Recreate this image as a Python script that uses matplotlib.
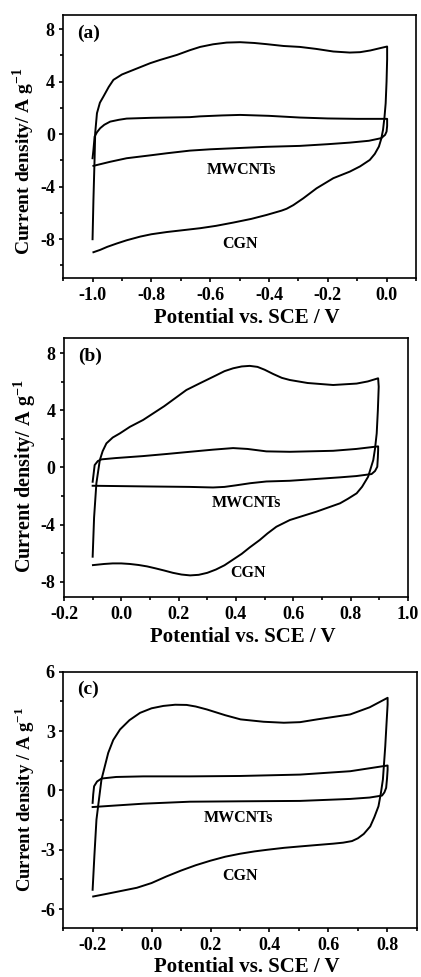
import matplotlib
matplotlib.use("Agg")
import matplotlib.pyplot as plt
from matplotlib.ticker import MultipleLocator, FormatStrFormatter

plt.rcParams['font.family'] = ['Liberation Serif', 'DejaVu Serif']
plt.rcParams['font.weight'] = 'bold'
plt.rcParams['axes.unicode_minus'] = False
plt.rcParams['mathtext.fontset'] = 'custom'
plt.rcParams['mathtext.rm'] = 'Liberation Serif'
plt.rcParams['mathtext.bf'] = 'Liberation Serif:bold'

# ---- panel (a) : -1.0 .. 0.0 V ----
a_cgn_x = [-1.0, -0.997, -0.993, -0.991, -0.985, -0.975, -0.963, -0.945, -0.929, -0.900, -0.861,
           -0.804, -0.770, -0.713, -0.669, -0.634, -0.590, -0.544, -0.498, -0.450, -0.408, -0.350,
           -0.295, -0.240, -0.181, -0.125, -0.090, -0.055, -0.023, 0.002,
           0.002, 0.000, -0.003, -0.007, -0.012, -0.018, -0.026, -0.040, -0.057, -0.090, -0.125,
           -0.181, -0.238, -0.283, -0.317, -0.340, -0.357, -0.408, -0.460, -0.521, -0.580, -0.634,
           -0.700, -0.747, -0.800, -0.838, -0.884, -0.917, -0.950, -0.974, -0.997]
a_cgn_y = [-8.0, -5.0, -1.8, 0.1, 1.6, 2.4, 2.87, 3.6, 4.14, 4.55, 4.90,
           5.41, 5.66, 6.04, 6.40, 6.65, 6.85, 6.98, 7.01, 6.95, 6.86, 6.72,
           6.65, 6.50, 6.30, 6.22, 6.25, 6.38, 6.55, 6.68,
           5.71, 4.0, 2.36, 1.3, 0.33, -0.35, -0.94, -1.50, -1.96, -2.45, -2.85,
           -3.35, -4.12, -4.88, -5.40, -5.68, -5.82, -6.15, -6.45, -6.73, -6.98, -7.16,
           -7.33, -7.45, -7.62, -7.80, -8.08, -8.32, -8.58, -8.81, -8.99]

a_mw_x = [-1.0, -0.997, -0.993, -0.985, -0.974, -0.960, -0.940, -0.910, -0.884, -0.800, -0.669,
          -0.634, -0.560, -0.498, -0.400, -0.295, -0.200, -0.100, 0.002,
          0.002, 0.000, -0.005, -0.018, -0.060, -0.125, -0.200, -0.295, -0.408, -0.500, -0.600,
          -0.669, -0.747, -0.800, -0.884, -0.940, -0.997]
a_mw_y = [-1.83, -1.2, -0.18, 0.15, 0.46, 0.72, 0.96, 1.10, 1.19, 1.25, 1.30,
          1.36, 1.43, 1.47, 1.40, 1.27, 1.20, 1.17, 1.17,
          0.63, 0.2, -0.05, -0.30, -0.50, -0.64, -0.76, -0.89, -0.96, -1.05, -1.15,
          -1.25, -1.45, -1.60, -1.83, -2.10, -2.41]

# ---- panel (b) : -0.1 .. 0.9 V ----
b_cgn_x = [-0.1, -0.095, -0.087, -0.075, -0.065, -0.052, -0.030, -0.005, 0.030, 0.076, 0.150,
           0.227, 0.274, 0.330, 0.360, 0.390, 0.420, 0.448, 0.475, 0.500, 0.530, 0.560, 0.588,
           0.650, 0.739, 0.821, 0.860, 0.896,
           0.898, 0.895, 0.891, 0.885, 0.879, 0.861, 0.840, 0.821, 0.790, 0.763, 0.680, 0.588,
           0.541, 0.510, 0.483, 0.448, 0.420, 0.390, 0.360, 0.330, 0.300, 0.270, 0.240, 0.210,
           0.180, 0.150, 0.120, 0.090, 0.060, 0.030, 0.000, -0.030, -0.060, -0.099]
b_cgn_y = [-6.25, -3.5, -1.11, 0.52, 1.15, 1.69, 2.10, 2.39, 2.85, 3.33, 4.30,
           5.43, 5.90, 6.45, 6.75, 6.95, 7.08, 7.12, 7.05, 6.85, 6.55, 6.28, 6.13,
           5.92, 5.78, 5.88, 6.03, 6.25,
           5.66, 4.0, 2.39, 1.3, 0.52, -0.65, -1.35, -1.81, -2.20, -2.51, -3.10, -3.68,
           -4.15, -4.62, -5.08, -5.60, -6.05, -6.45, -6.85, -7.15, -7.38, -7.52, -7.56, -7.50,
           -7.38, -7.22, -7.07, -6.93, -6.83, -6.76, -6.72, -6.72, -6.76, -6.84]

b_mw_x = [-0.1, -0.097, -0.093, -0.082, -0.069, -0.020, 0.076, 0.160, 0.239, 0.320, 0.390, 0.440,
          0.506, 0.588, 0.739, 0.820, 0.896,
          0.896, 0.895, 0.893, 0.885, 0.873, 0.820, 0.763, 0.588, 0.506, 0.450, 0.400, 0.360,
          0.320, 0.239, 0.099, -0.020, -0.1]
b_mw_y = [-1.0, -0.5, 0.17, 0.45, 0.57, 0.66, 0.80, 0.95, 1.10, 1.25, 1.36, 1.30,
          1.13, 1.10, 1.17, 1.30, 1.48,
          1.22, 0.7, 0.05, -0.25, -0.46, -0.60, -0.69, -0.93, -0.98, -1.10, -1.25, -1.36,
          -1.40, -1.36, -1.33, -1.30, -1.28]

# ---- panel (c) : -0.2 .. 0.8 V ----
c_cgn_x = [-0.2, -0.194, -0.187, -0.178, -0.170, -0.147, -0.130, -0.107, -0.075, -0.039, 0.000,
           0.040, 0.080, 0.119, 0.150, 0.188, 0.250, 0.302, 0.380, 0.449, 0.504, 0.562, 0.620,
           0.674, 0.740, 0.801,
           0.801, 0.797, 0.793, 0.785, 0.778, 0.770, 0.756, 0.742, 0.720, 0.700, 0.680, 0.650,
           0.617, 0.560, 0.504, 0.450, 0.392, 0.350, 0.300, 0.250, 0.200, 0.150, 0.100, 0.050,
           0.000, -0.050, -0.100, -0.150, -0.198]
c_cgn_y = [-5.02, -3.3, -1.48, -0.40, 0.55, 1.90, 2.55, 3.08, 3.55, 3.92, 4.15,
           4.27, 4.33, 4.32, 4.24, 4.09, 3.80, 3.59, 3.47, 3.42, 3.45, 3.59, 3.72,
           3.84, 4.20, 4.68,
           4.34, 3.3, 2.23, 0.55, -0.15, -0.80, -1.35, -1.82, -2.20, -2.42, -2.56, -2.64,
           -2.69, -2.76, -2.83, -2.90, -3.00, -3.08, -3.20, -3.35, -3.55, -3.78, -4.05, -4.35,
           -4.68, -4.92, -5.07, -5.22, -5.36]

c_mw_x = [-0.2, -0.198, -0.195, -0.185, -0.170, -0.120, -0.028, 0.130, 0.300, 0.504, 0.674, 0.801,
          0.801, 0.799, 0.796, 0.790, 0.782, 0.740, 0.674, 0.504, 0.300, 0.130, -0.028, -0.120, -0.2]
c_mw_y = [-0.63, -0.2, 0.21, 0.45, 0.60, 0.68, 0.71, 0.71, 0.73, 0.80, 0.97, 1.26,
          1.05, 0.6, 0.13, -0.10, -0.26, -0.36, -0.43, -0.53, -0.55, -0.57, -0.67, -0.76, -0.84]

panels = [
    dict(tag='(a)', cgn=(a_cgn_x, a_cgn_y), mw=(a_mw_x, a_mw_y),
         xlim=(-1.1, 0.1), ylim=(-10.95, 9.07), xmaj=0.2, ymaj=4,
         ylabel=r'Current density/ A g$^{\mathbf{-1}}$', ylab_y=0.445, ylab_fs=14,
         mw_pos=(-0.492, -2.69), cgn_pos=(-0.499, -8.33),
         rect=[0.150, 0.7155, 0.838, 0.269]),
    dict(tag='(b)', cgn=(b_cgn_x, b_cgn_y), mw=(b_mw_x, b_mw_y),
         xlim=(-0.2, 1.0), ylim=(-9.07, 9.07), xmaj=0.2, ymaj=4,
         ylabel=r'Current density/ A g$^{\mathbf{-1}}$', ylab_y=0.467, ylab_fs=14.5,
         mw_pos=(0.437, -2.47), cgn_pos=(0.443, -7.42),
         rect=[0.152, 0.389, 0.817, 0.265]),
    dict(tag='(c)', cgn=(c_cgn_x, c_cgn_y), mw=(c_mw_x, c_mw_y),
         xlim=(-0.3, 0.9), ylim=(-6.95, 6.0), xmaj=0.2, ymaj=3,
         ylabel=r'Current density / A g$^{\mathbf{-1}}$', ylab_y=0.503, ylab_fs=13.5,
         mw_pos=(0.294, -1.39), cgn_pos=(0.30, -4.33),
         rect=[0.150, 0.0502, 0.840, 0.2623]),
]

fig = plt.figure(figsize=(4.21, 9.77), dpi=100)

for p in panels:
    ax = fig.add_axes(p['rect'])
    ax.plot(p['cgn'][0], p['cgn'][1], color='black', lw=1.4)
    ax.plot(p['mw'][0], p['mw'][1], color='black', lw=1.4)
    ax.set_xlim(p['xlim'])
    ax.set_ylim(p['ylim'])
    ax.xaxis.set_major_locator(MultipleLocator(p['xmaj']))
    ax.xaxis.set_minor_locator(MultipleLocator(p['xmaj'] / 2))
    ax.yaxis.set_major_locator(MultipleLocator(p['ymaj']))
    ax.yaxis.set_minor_locator(MultipleLocator(p['ymaj'] / 2))
    ax.xaxis.set_major_formatter(FormatStrFormatter('%.1f'))
    ax.yaxis.set_major_formatter(FormatStrFormatter('%d'))
    ax.tick_params(which='both', direction='out', top=False, right=False, width=1.2)
    ax.tick_params(which='major', length=3, labelsize=13)
    ax.tick_params(which='minor', length=2)
    ax.tick_params(axis='x', which='major', pad=3.5)
    ax.tick_params(axis='y', which='major', pad=3)
    for s in ax.spines.values():
        s.set_linewidth(1.2)
    ax.set_xlabel('Potential vs. SCE / V', fontsize=15, fontweight='bold', labelpad=0)
    ax.xaxis.set_label_coords(0.52, -0.115)
    ax.set_ylabel(p['ylabel'], fontsize=p['ylab_fs'], fontweight='bold')
    ax.yaxis.set_label_coords(-0.075, p['ylab_y'])
    ax.text(0.04, 0.93, p['tag'], transform=ax.transAxes, fontsize=14, fontweight='bold',
            ha='left', va='center')
    ax.text(p['mw_pos'][0], p['mw_pos'][1], 'MWCNTs', fontsize=11.5, fontweight='bold',
            ha='center', va='center')
    ax.text(p['cgn_pos'][0], p['cgn_pos'][1], 'CGN', fontsize=11.5, fontweight='bold',
            ha='center', va='center')

fig.savefig('out.png', dpi=100)
